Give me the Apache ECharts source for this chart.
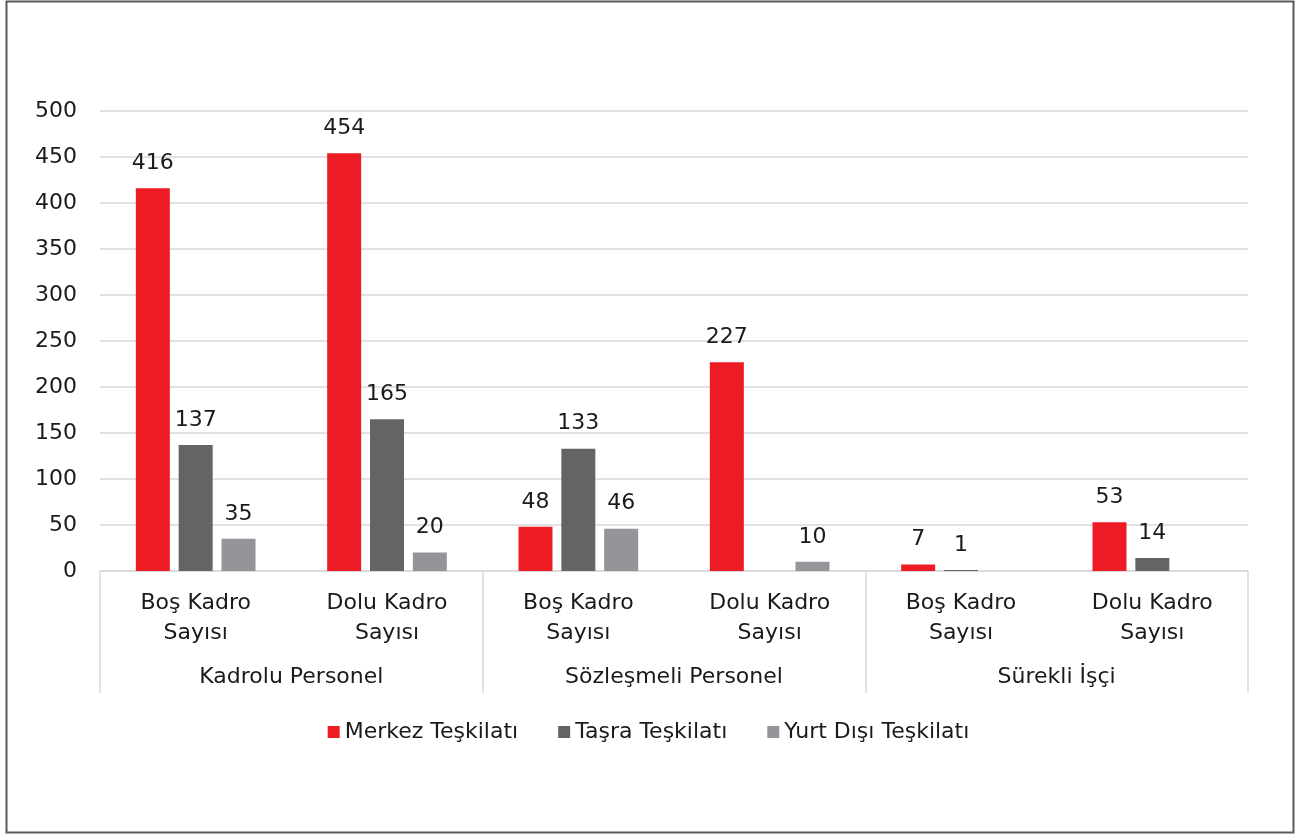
<!DOCTYPE html>
<html><head><meta charset="utf-8">
<script src="https://cdn.jsdelivr.net/npm/echarts@6/dist/echarts.min.js"></script>
<style>html,body{margin:0;padding:0;background:#fff}#c{width:1297px;height:834px}</style>
</head><body><div id="c"></div>
<script>
const categories = ['Boş Kadro\nSayısı','Dolu Kadro\nSayısı','Boş Kadro\nSayısı','Dolu Kadro\nSayısı','Boş Kadro\nSayısı','Dolu Kadro\nSayısı'];
const groups = ['Kadrolu Personel','Sözleşmeli Personel','Sürekli İşçi'];
const merkez = [416, 454, 48, 227, 7, 53];
const tasra = [137, 165, 133, null, 1, 14];
const yurtDisi = [35, 20, 46, 10, null, null];
const seriesNames = ['Merkez Teşkilatı','Taşra Teşkilatı','Yurt Dışı Teşkilatı'];
const colors = ['#ED1C24','#636466','#939598'];
const font = 'DejaVu Sans';
const fs = 22;
const chart = echarts.init(document.getElementById('c'));
const mk = (name, data, color) => ({
  name, type: 'bar', data, barWidth: 34, barGap: '26%',
  itemStyle: { color },
  label: { show: true, position: 'top', distance: 14, color: '#1a1a1a', fontSize: fs, fontFamily: font }
});
chart.setOption({
  animation: false,
  textStyle: { fontFamily: font },
  color: colors,
  graphic: [{ type: 'rect', shape: { x: 6.5, y: 1.5, width: 1287, height: 831 }, style: { fill: 'none', stroke: '#5a5a5a', lineWidth: 2 }, silent: true }],
  grid: { left: 100, right: 49, top: 111, bottom: 263, containLabel: false },
  legend: {
    bottom: 86, left: 'center', itemWidth: 12, itemHeight: 12, itemGap: 40,
    icon: 'rect', textStyle: { fontSize: fs, color: '#1a1a1a', fontFamily: font },
    data: seriesNames
  },
  xAxis: [{
    type: 'category', data: categories, position: 'bottom',
    axisLine: { show: true, lineStyle: { color: '#d9d9d9', width: 1.5 } },
    axisTick: { show: false },
    axisLabel: { interval: 0, fontSize: fs, color: '#1a1a1a', fontFamily: font, margin: 17, lineHeight: 30 }
  }, {
    type: 'category', data: groups, position: 'bottom',
    axisLine: { show: false },
    axisTick: { show: true, length: 122, interval: 0, lineStyle: { color: '#d9d9d9', width: 1.5 } },
    axisLabel: { interval: 0, fontSize: fs, color: '#1a1a1a', fontFamily: font, margin: 95 }
  }],
  yAxis: {
    type: 'value', min: 0, max: 500, interval: 50,
    axisLine: { show: false }, axisTick: { show: false },
    splitLine: { lineStyle: { color: '#d9d9d9', width: 1.5 } },
    axisLabel: { fontSize: fs, color: '#1a1a1a', fontFamily: font, margin: 23 }
  },
  series: [mk(seriesNames[0], merkez, colors[0]), mk(seriesNames[1], tasra, colors[1]), mk(seriesNames[2], yurtDisi, colors[2])]
});
</script></body></html>
